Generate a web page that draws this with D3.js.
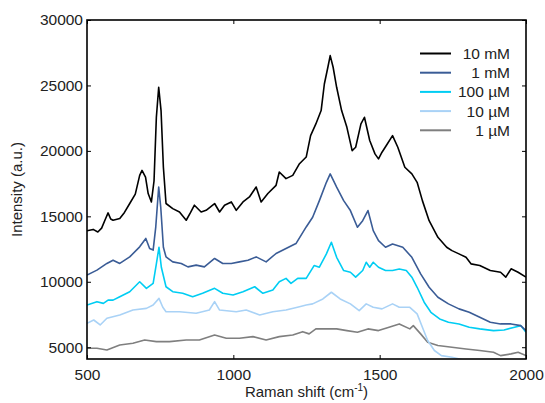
<!DOCTYPE html>
<html>
<head>
<meta charset="utf-8">
<script src="https://cdnjs.cloudflare.com/ajax/libs/d3/7.8.5/d3.min.js"></script>
<style>
  body { margin: 0; background: #fff; }
  text { font-family: "Liberation Sans", Arial, sans-serif; fill: #222; }
</style>
</head>
<body>
<div id="container"></div>
<script>
/* DATA: [Raman shift, intensity] */
const mM10 = [[500,13900],[521,14000],[537,13800],[550,14100],[563,14800],[572,15260],[581,14800],[589,14700],[612,14830],[628,15300],[646,15980],[665,16700],[680,18130],[688,18510],[700,18000],[709,16740],[720,16100],[729,17700],[737,22570],[745,24860],[753,23080],[761,18750],[770,15980],[793,15590],[816,15330],[839,14700],[854,15300],[867,15850],[890,15330],[907,15460],[936,15980],[953,15330],[970,15850],[993,16100],[1010,15460],[1033,16100],[1055,16480],[1078,17240],[1095,16100],[1118,16740],[1146,17370],[1157,18390],[1180,17880],[1203,18130],[1226,19020],[1249,19530],[1264,21170],[1282,22060],[1300,23080],[1311,25110],[1323,26390],[1331,27280],[1341,26390],[1353,24860],[1370,23080],[1388,21800],[1406,20020],[1418,20280],[1436,22060],[1448,22570],[1466,20790],[1484,19770],[1496,19390],[1508,19900],[1526,20530],[1544,21170],[1562,20280],[1586,18750],[1610,18240],[1628,17600],[1646,16200],[1669,14670],[1699,13400],[1729,12640],[1747,12380],[1771,12130],[1795,11870],[1812,11370],[1842,11240],[1878,10860],[1913,10730],[1931,10350],[1949,10990],[1973,10730],[2000,10350]];
const mM1 = [[500,10510],[534,10890],[568,11400],[589,11650],[612,11400],[646,11900],[680,12670],[701,13310],[714,12540],[726,12420],[735,14200],[745,17240],[752,15690],[761,12640],[770,11900],[793,11520],[822,11400],[845,11140],[873,11270],[901,11140],[936,11780],[964,11400],[993,11400],[1021,11520],[1050,11650],[1078,11900],[1112,11520],[1146,12160],[1180,12540],[1214,12920],[1249,14190],[1271,14930],[1294,16200],[1318,17600],[1331,18240],[1353,17230],[1377,16200],[1400,15440],[1424,14170],[1442,14670],[1460,15440],[1478,13910],[1496,13150],[1520,12640],[1544,12890],[1579,12640],[1610,11870],[1640,10600],[1669,9580],[1699,8820],[1735,8310],[1771,7930],[1806,7670],[1842,7290],[1878,6910],[1913,6780],[1949,6780],[1982,6650],[2000,6270]];
const uM100 = [[500,8220],[534,8480],[556,8350],[572,8600],[589,8600],[612,8860],[646,9240],[680,10000],[703,9500],[726,9880],[737,11370],[746,12640],[754,11110],[770,9620],[793,9240],[827,9120],[861,8860],[895,9120],[936,9500],[964,9120],[999,8990],[1033,9240],[1073,9620],[1101,9120],[1135,9370],[1157,10000],[1180,10260],[1197,9880],[1220,10260],[1249,10260],[1276,11240],[1294,11110],[1318,12130],[1335,13020],[1353,11870],[1377,10860],[1400,10730],[1418,10350],[1442,10860],[1454,11490],[1466,11110],[1478,11490],[1496,11110],[1520,10860],[1544,10860],[1567,10980],[1591,10860],[1610,10350],[1628,9580],[1652,8440],[1675,7670],[1705,7160],[1735,6910],[1771,6780],[1806,6530],[1842,6400],[1889,6270],[1925,6320],[1961,6530],[1982,6650],[2000,6140]];
const uM10 = [[500,6830],[523,7080],[545,6700],[568,7210],[612,7460],[657,7840],[703,7970],[726,8220],[746,8730],[759,8050],[770,7710],[816,7710],[873,7590],[918,7840],[936,8480],[953,7840],[1010,7710],[1044,7840],[1090,7460],[1135,7710],[1180,7840],[1226,8090],[1249,8220],[1271,8310],[1306,8690],[1335,9200],[1365,8690],[1400,8310],[1430,7800],[1454,8310],[1478,8050],[1508,7930],[1544,8310],[1567,8050],[1603,8050],[1628,7550],[1646,6530],[1664,5510],[1687,4750],[1711,4360],[1747,4240],[1795,3980],[1830,3700]];
const uM1 = [[500,4920],[534,4920],[568,4790],[612,5170],[657,5300],[697,5550],[737,5430],[782,5430],[839,5550],[884,5550],[936,5930],[976,5680],[1021,5680],[1067,5810],[1112,5550],[1157,5810],[1203,5930],[1237,6190],[1259,6020],[1282,6400],[1318,6400],[1353,6400],[1388,6270],[1424,6150],[1460,6400],[1496,6270],[1532,6530],[1567,6780],[1603,6400],[1615,6650],[1640,6020],[1664,5380],[1699,5130],[1747,5000],[1795,4870],[1842,4750],[1889,4620],[1913,4360],[1949,4490],[1973,4620],[2000,4360]];

const seriesNames = ["10 mM", "1 mM", "100 \u00b5M", "10 \u00b5M", "1 \u00b5M"];
const seriesColors = ["#000000", "#3a5c96", "#00cdf3", "#a9d2f6", "#7f7f7f"];
const seriesData = [mM10, mM1, uM100, uM10, uM1];
const xTicks = [500, 1000, 1500, 2000];
const yTicks = [5000, 10000, 15000, 20000, 25000, 30000];

const width = 545, height = 403;
const margin = { top: 20, right: 19, bottom: 44, left: 87 };

const svg = d3.select("#container").append("svg")
  .attr("width", width)
  .attr("height", height);

const xScale = d3.scaleLinear().domain([500, 2000]).range([margin.left, width - margin.right]);
const yScale = d3.scaleLinear().domain([4100, 30000]).range([height - margin.bottom, margin.top]);

svg.append("clipPath").attr("id", "clip")
  .append("rect")
  .attr("x", margin.left).attr("y", margin.top)
  .attr("width", xScale(2000) - margin.left)
  .attr("height", yScale(4100) - margin.top);

const line = d3.line().x(d => xScale(d[0])).y(d => yScale(d[1]));

// draw back to front so black ends on top
svg.append("g").attr("clip-path", "url(#clip)")
  .selectAll("path")
  .data(seriesData.map((d, i) => ({ values: d, color: seriesColors[i] })).reverse())
  .join("path")
  .attr("d", d => line(d.values))
  .attr("fill", "none")
  .attr("stroke", d => d.color)
  .attr("stroke-width", 1.6)
  .attr("stroke-linejoin", "round");

// axes, ticks pointing inward
const tickLen = 4;
const fmt = d3.format("d");
svg.append("g")
  .attr("transform", `translate(0, ${yScale(4100)})`)
  .call(d3.axisBottom(xScale).tickValues(xTicks).tickSize(-tickLen).tickPadding(10).tickFormat(fmt))
  .call(g => g.select(".domain").remove())
  .call(g => g.selectAll("text").style("font-size", "15.5px"));

svg.append("g")
  .attr("transform", `translate(0, ${margin.top})`)
  .call(d3.axisTop(xScale).tickValues(xTicks).tickSize(-tickLen).tickFormat(""))
  .call(g => g.select(".domain").remove());

svg.append("g")
  .attr("transform", `translate(${margin.left}, 0)`)
  .call(d3.axisLeft(yScale).tickValues(yTicks).tickSize(-tickLen).tickPadding(4).tickFormat(fmt))
  .call(g => g.select(".domain").remove())
  .call(g => g.selectAll("text").style("font-size", "15.5px"));

svg.append("g")
  .attr("transform", `translate(${xScale(2000)}, 0)`)
  .call(d3.axisRight(yScale).tickValues(yTicks).tickSize(-tickLen).tickFormat(""))
  .call(g => g.select(".domain").remove());

svg.selectAll(".tick line").attr("stroke", "#000");
svg.selectAll(".tick text").attr("fill", "#222");

// frame
svg.append("rect")
  .attr("x", margin.left).attr("y", margin.top)
  .attr("width", xScale(2000) - margin.left)
  .attr("height", yScale(4100) - margin.top)
  .attr("fill", "none")
  .attr("stroke", "#000")
  .attr("stroke-width", 1.6);

// axis labels
const xl = svg.append("text")
  .attr("x", (xScale(500) + xScale(2000)) / 2)
  .attr("y", 397)
  .attr("text-anchor", "middle")
  .style("font-size", "15px");
xl.append("tspan").text("Raman shift (cm");
xl.append("tspan").attr("dy", -6).style("font-size", "10px").text("-1");
xl.append("tspan").attr("dy", 6).text(")");

svg.append("text")
  .attr("transform", `translate(22, ${(yScale(4100) + margin.top) / 2}) rotate(-90)`)
  .attr("text-anchor", "middle")
  .style("font-size", "15px")
  .text("Intensity (a.u.)");

// legend
const legend = svg.append("g").selectAll("g")
  .data(seriesNames)
  .join("g")
  .attr("transform", (d, i) => `translate(0, ${53.5 + i * 19.2})`);

legend.append("line")
  .attr("x1", 420).attr("x2", 451)
  .attr("stroke", (d, i) => seriesColors[i])
  .attr("stroke-width", 2);

legend.append("text")
  .attr("x", 510)
  .attr("dy", "0.35em")
  .attr("text-anchor", "end")
  .style("font-size", "15.5px")
  .text(d => d);
</script>
</body>
</html>
